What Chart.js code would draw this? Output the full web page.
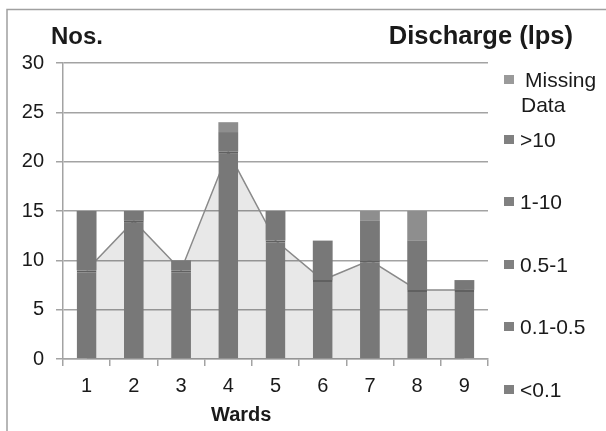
<!DOCTYPE html>
<html>
<head>
<meta charset="utf-8">
<script src="https://cdn.jsdelivr.net/npm/chart.js@4/dist/chart.umd.min.js"></script>
<style>
  html, body { margin: 0; padding: 0; background: #fff; }
  #wrap { position: relative; width: 606px; height: 431px; }
</style>
</head>
<body>
<div id="wrap"><canvas id="c" width="606" height="431"></canvas></div>
<script>
// Wards on the category axis
const wards = ['1', '2', '3', '4', '5', '6', '7', '8', '9'];
const yTickValues = [0, 5, 10, 15, 20, 25, 30];

// Number of sources per discharge class (lps), stacked bottom to top
const below01 = [0, 0, 0, 0, 0, 0, 0, 0, 0];
const from01to05 = [0, 0, 0, 0, 0, 0, 0, 0, 0];
const from05to1 = [0, 0, 0, 0, 0, 0, 0, 0, 0];
const from1to10 = [9, 14, 9, 21, 12, 8, 10, 7, 7];
const above10 = [6, 1, 1, 2, 3, 4, 4, 5, 1];
const missingData = [0, 0, 0, 1, 0, 0, 1, 3, 0];

// Shaded background profile across the wards
const areaProfile = [9, 14, 9, 21, 12, 8, 10, 7, 7];

const FONT = "'Liberation Sans', Arial, sans-serif";
const TEXT = '#1a1a1a';
const AXIS = '#a3a3a3';
const BAR = '#787878';
const BAR_MISSING = '#8e8e8e';

const barSets = [
  { label: '<0.1', data: below01, color: BAR },
  { label: '0.1-0.5', data: from01to05, color: BAR },
  { label: '0.5-1', data: from05to1, color: BAR },
  { label: '1-10', data: from1to10, color: BAR, edge: true },
  { label: '>10', data: above10, color: BAR },
  { label: 'Missing Data', data: missingData, color: BAR_MISSING }
];

const datasets = barSets.map(s => ({
  type: 'bar',
  label: s.label,
  data: s.data,
  backgroundColor: s.color,
  borderColor: '#606060',
  borderWidth: s.edge ? { top: 2, right: 0, bottom: 0, left: 0 } : 0,
  borderSkipped: false,
  stack: 'counts',
  order: 1,
  categoryPercentage: 1.0,
  barPercentage: 0.42
}));

datasets.push({
  type: 'line',
  label: 'profile',
  data: areaProfile,
  stack: 'profile',
  fill: 'origin',
  backgroundColor: 'rgba(0,0,0,0.09)',
  borderColor: '#8a8a8a',
  borderWidth: 1.5,
  pointRadius: 0,
  tension: 0,
  order: 10
});

// Frame, headings and the class legend drawn on the canvas
const decorations = {
  id: 'decorations',
  beforeDraw(chart) {
    const ctx = chart.ctx;
    ctx.save();
    ctx.strokeStyle = '#a0a0a0';
    ctx.lineWidth = 1.5;
    ctx.beginPath();
    ctx.moveTo(7, 431);
    ctx.lineTo(7, 9.5);
    ctx.lineTo(606, 9.5);
    ctx.stroke();
    ctx.restore();
  },
  afterDraw(chart) {
    const ctx = chart.ctx;
    ctx.save();
    ctx.fillStyle = TEXT;
    ctx.textBaseline = 'alphabetic';
    ctx.font = 'bold 24px ' + FONT;
    ctx.textAlign = 'left';
    ctx.fillText('Nos.', 51, 44);
    ctx.font = 'bold 25.5px ' + FONT;
    ctx.textAlign = 'right';
    ctx.fillText('Discharge (lps)', 573, 44);
    ctx.font = 'bold 20px ' + FONT;
    ctx.textAlign = 'left';
    ctx.fillText('Wards', 211, 421);

    // legend entries, top to bottom
    const entries = [
      { lines: ['Missing', 'Data'], base: 87, color: BAR_MISSING },
      { lines: ['>10'], base: 147, color: BAR },
      { lines: ['1-10'], base: 209, color: BAR },
      { lines: ['0.5-1'], base: 272, color: BAR },
      { lines: ['0.1-0.5'], base: 334, color: BAR },
      { lines: ['<0.1'], base: 397, color: BAR }
    ];
    ctx.font = '21px ' + FONT;
    entries.forEach(e => {
      ctx.fillStyle = e.color === BAR_MISSING ? '#9a9a9a' : '#808080';
      ctx.fillRect(504, e.base - 12, 10, 9);
      ctx.fillStyle = TEXT;
      if (e.lines.length === 2) {
        ctx.fillText(e.lines[0], 525, e.base);
        ctx.fillText(e.lines[1], 521, e.base + 25);
      } else {
        ctx.fillText(e.lines[0], 520, e.base);
      }
    });
    ctx.restore();
  }
};

new Chart(document.getElementById('c'), {
  data: { labels: wards, datasets },
  options: {
    responsive: false,
    animation: false,
    devicePixelRatio: 1,
    layout: { padding: { top: 63, right: 118, bottom: 0, left: 0 } },
    plugins: { legend: { display: false }, tooltip: { enabled: false } },
    scales: {
      x: {
        stacked: true,
        offset: true,
        grid: {
          offset: true,
          drawOnChartArea: false,
          drawTicks: true,
          tickLength: 7,
          color: AXIS,
          lineWidth: 1.5
        },
        border: { display: true, color: AXIS, width: 1.5 },
        ticks: { color: TEXT, font: { family: FONT, size: 20 }, padding: 8 },
        afterFit(scale) { scale.height = 72; }
      },
      y: {
        stacked: true,
        min: 0,
        max: 30,
        afterBuildTicks(scale) { scale.ticks = yTickValues.map(v => ({ value: v })); },
        grid: { color: AXIS, lineWidth: 1.5, tickLength: 7, drawTicks: true },
        border: { display: true, color: AXIS, width: 1.5 },
        ticks: { color: TEXT, font: { family: FONT, size: 20 }, padding: 12 },
        afterFit(scale) { scale.width = 63; }
      }
    }
  },
  plugins: [decorations]
});
</script>
</body>
</html>
